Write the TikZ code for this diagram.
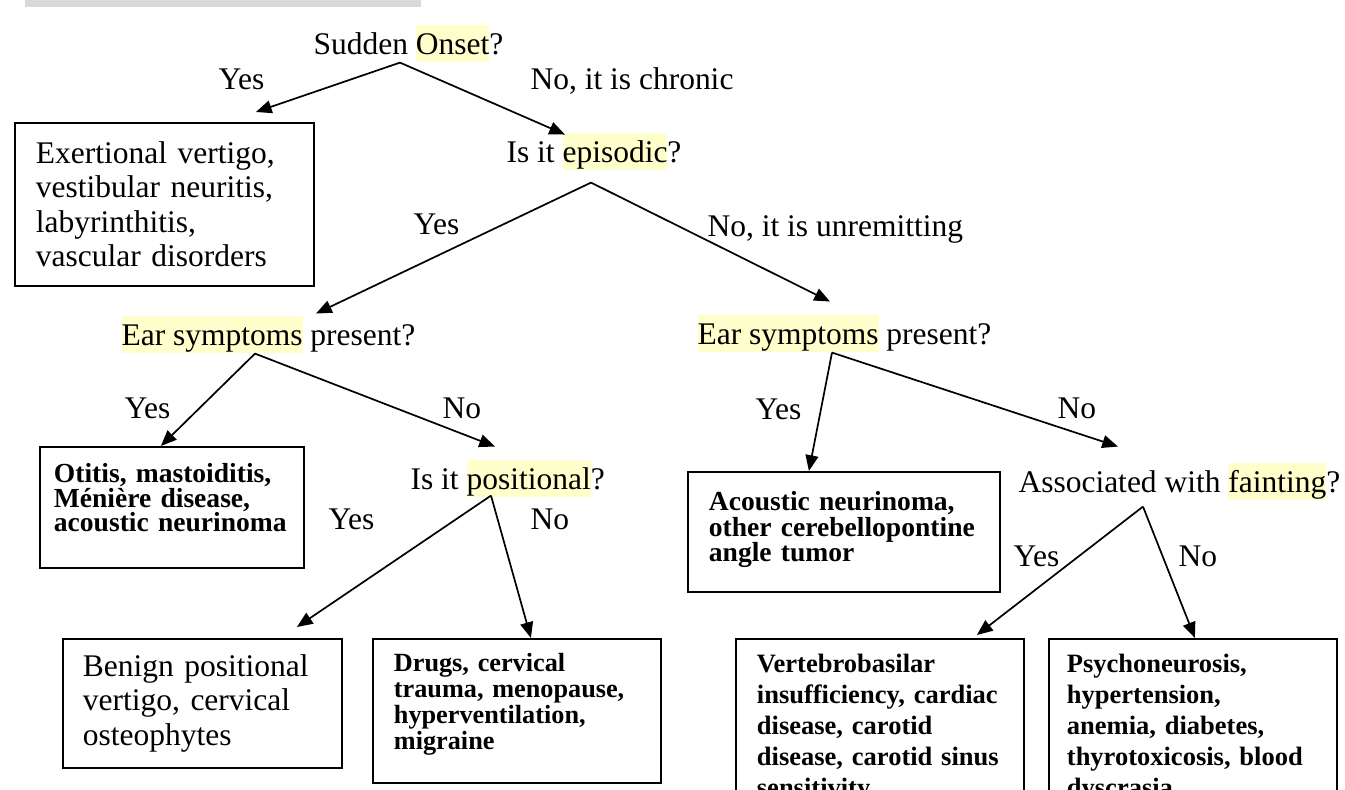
\documentclass[tikz,border=0pt]{standalone}
\usepackage{fontspec}
\setmainfont{Liberation Serif}
\usepackage{tikz}
\usetikzlibrary{arrows.meta,positioning}
\definecolor{hlyellow}{HTML}{FFFFCC}
\definecolor{barfill}{HTML}{D9D9D9}
\newcommand{\pxu}{0.381pt}
\newcommand{\normaltext}{\fontsize{12}{13.1}\selectfont}
\newcommand{\resultfont}[2]{\bfseries\fontsize{#1}{#2}\selectfont}
\newcommand{\hlword}[1]{{\setlength{\fboxsep}{0pt}\colorbox{hlyellow}{\rule[-2.7pt]{0pt}{14.1pt}#1}}}
\newcommand{\padbelow}[1]{\rule[-#1]{0pt}{0pt}}
\lineskiplimit=-5pt

\begin{document}
\begin{tikzpicture}[x=0.381pt,y=-0.381pt,>={Triangle[length=6pt,width=4.9pt]}]
  \tikzstyle{question}=[inner sep=0pt,anchor=base west,font=\normaltext]
  \tikzstyle{answer}=[inner sep=0pt,anchor=base west,font=\normaltext]
  \tikzstyle{outcome}=[draw,line width=0.7pt,anchor=north west,align=left,inner ysep=0pt,inner xsep={21*\pxu},font=\normaltext]
  \tikzstyle{branch}=[->,line width=0.65pt]
  \useasboundingbox (0,0) rectangle (1345,790);
  \clip (0,0) rectangle (1345,790);
  \fill[barfill] (25,0) rectangle (421,7);

  % questions
  \node[question] (onset) at (313,55) {Sudden \hlword{Onset}?};
  \node[question] (episodic) at (506,163) {Is it \hlword{episodic}?};
  \node[question] (leftear) at (121,346) {\hlword{Ear symptoms} present?};
  \node[question] (rightear) at (697,345) {\hlword{Ear symptoms} present?};
  \node[question] (positional) at (410,490) {Is it \hlword{positional}?};
  \node[question] (fainting) at (1018,493) {Associated with \hlword{fainting}?};

  % answers on the branches
  \node[answer] (yes1) at (218,90) {Yes};
  \node[answer] (no1) at (530,90) {No, it is chronic};
  \node[answer] (yes2) at (413,235) {Yes};
  \node[answer] (no2) at (707,237) {No, it is unremitting};
  \node[answer] (yes3) at (124,419) {Yes};
  \node[answer] (no3) at (442,419) {No};
  \node[answer] (yes4) at (755,420) {Yes};
  \node[answer] (no4) at (1057,419) {No};
  \node[answer] (yes5) at (328,530) {Yes};
  \node[answer] (no5) at (530,530) {No};
  \node[answer] (yes6) at (1013,567) {Yes};
  \node[answer] (no6) at (1178,567) {No};

  % diagnoses
  \node[outcome,text width={257*\pxu},minimum height={163*\pxu}] (exert) at (14,122)
    {Exertional vertigo,\\vestibular neuritis,\\labyrinthitis,\\vascular disorders};
  \node[outcome,inner xsep={14*\pxu},text width={236*\pxu},minimum height={121*\pxu},font=\resultfont{10.5}{9.5}] (otitis) at (39,446)
    {Otitis, mastoiditis,\\Ménière disease,\\acoustic neurinoma\padbelow{7.6pt}};
  \node[outcome,inner xsep={20*\pxu},text width={239*\pxu},minimum height={129*\pxu}] (benign) at (62,638)
    {Benign positional\\vertigo, cervical\\osteophytes};
  \node[outcome,text width={246*\pxu},minimum height={144*\pxu},font=\resultfont{10}{9.8}] (drugs) at (372,638)
    {Drugs, cervical\\trauma, menopause,\\hyperventilation,\\migraine\padbelow{7.2pt}};
  \node[outcome,text width={270*\pxu},minimum height={120*\pxu},font=\resultfont{10.5}{9.8}] (acoustic) at (687,471)
    {Acoustic neurinoma,\\other cerebellopontine\\angle tumor\padbelow{4pt}};
  \node[outcome,text width={246*\pxu},minimum height={178*\pxu},font=\resultfont{10.1}{11.8}] (vertebro) at (735,638)
    {Vertebrobasilar\\insufficiency, cardiac\\disease, carotid\\disease, carotid sinus\\sensitivity};
  \node[outcome,inner xsep={18*\pxu},text width={252*\pxu},minimum height={178*\pxu},font=\resultfont{10.1}{11.8}] (psycho) at (1048,638)
    {Psychoneurosis,\\hypertension,\\anemia, diabetes,\\thyrotoxicosis, blood\\dyscrasia};

  % forks under each question
  \coordinate (onset-fork) at ([shift={(87,0)}]onset.south west);
  \coordinate (episodic-fork) at ([shift={(85,12)}]episodic.south west);
  \coordinate (leftear-fork) at ([shift={(134,0)}]leftear.south west);
  \coordinate (rightear-fork) at ([shift={(135,0)}]rightear.south west);
  \coordinate (positional-fork) at ([shift={(81,-2)}]positional.south west);
  \coordinate (fainting-fork) at ([shift={(125,6)}]fainting.south west);

  \draw[branch] (onset-fork) -- ([shift={(91.5,-10)}]exert.north);
  \draw[branch] (onset-fork) -- ([shift={(59,2)}]episodic.north west);
  \draw[branch] (episodic-fork) -- ([shift={(195,-2)}]leftear.north west);
  \draw[branch] (episodic-fork) -- ([shift={(133,-13)}]rightear.north west);
  \draw[branch] (leftear-fork) -- ([shift={(-11,0)}]otitis.north);
  \draw[branch] (leftear-fork) -- ([shift={(85,-13)}]positional.north west);
  \draw[branch] (rightear-fork) -- ([shift={(-35,0)}]acoustic.north);
  \draw[branch] (rightear-fork) -- ([shift={(100,-16)}]fainting.north west);
  \draw[branch] (positional-fork) -- ([shift={(94.5,-11)}]benign.north);
  \draw[branch] (positional-fork) -- ([shift={(14,0)}]drugs.north);
  \draw[branch] (fainting-fork) -- ([shift={(97,-3)}]vertebro.north);
  \draw[branch] (fainting-fork) -- ([shift={(2,0)}]psycho.north);
\end{tikzpicture}
\end{document}
